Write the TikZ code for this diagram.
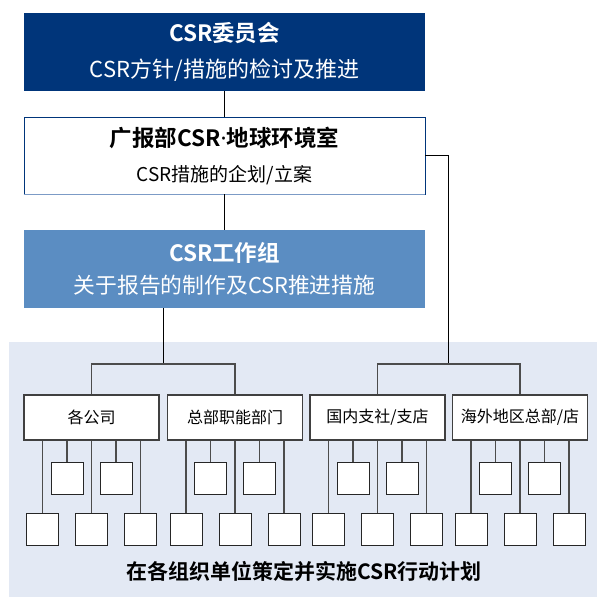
\documentclass[tikz,border=0pt]{standalone}
\usepackage{fontspec}
\setmainfont{Noto Sans CJK SC}[BoldFont={Noto Sans CJK SC Bold}]
\newfontfamily\latinfont{Noto Sans}
\usepackage{tikz}
\definecolor{csrnavy}{HTML}{00357A}
\definecolor{csrblue}{HTML}{5B8DC2}
\definecolor{csrpale}{HTML}{E3E9F4}
\definecolor{csredge}{HTML}{7C9BC6}

\begin{document}
\begin{tikzpicture}[x=1pt,y=-1pt,
  topbox/.style={minimum width=401pt,minimum height=78pt,inner sep=0pt,align=center},
  orgbox/.style={draw=black!75,fill=white,line width=1.1pt,minimum width=135pt,minimum height=45pt,inner sep=0pt,font=\fontsize{16}{20}\selectfont},
  unitbox/.style={draw=black!85,fill=white,line width=0.9pt,minimum size=32pt,inner sep=0pt},
  link/.style={draw=black!70,line width=1.3pt}]
\useasboundingbox (0,0) rectangle (597,597);
%\draw[step=50pt,color=gray] (0,0) grid (597,597);
\fill[csrpale] (9,342) rectangle (597,597);
\node[topbox,fill=csrnavy,text=white,font=\fontsize{22}{36}\selectfont] (csr) at (224.5,52)
  {{\bfseries\fontsize{22.5}{36}\selectfont CSR委员会}\\CSR方针/措施的检讨及推进};
\node[topbox,draw=csrnavy,line width=0.9pt,fill=white,minimum height=77pt,font=\fontsize{19}{35}\selectfont] (hb) at (224.5,155.5)
  {{\bfseries\fontsize{22.5}{35}\selectfont 广报部CSR{\latinfont\bfseries ·}地球环境室}\\CSR措施的企划/立案};
\draw[csredge,line width=1.6pt] (hb.south west) -- (hb.south east);
\node[topbox,fill=csrblue,text=white,font=\fontsize{21.8}{32}\selectfont] (wg) at (224.5,269)
  {{\bfseries\fontsize{22.5}{32}\selectfont CSR工作组}\\关于报告的制作及CSR推进措施};
\draw[line width=0.9pt] (csr.south) -- (hb.north);
\draw[line width=0.9pt] (hb.south) -- (wg.north);
\node[orgbox] (co1) at (91.5,417.5) {各公司};
\node[orgbox] (co2) at (235,417.5) {总部职能部门};
\node[orgbox] (co3) at (377.5,417.5) {国内支社/支店};
\node[orgbox] (co4) at (520,417.5) {海外地区总部/店};
\coordinate (busL) at (163,364);
\coordinate (busR) at (448,364);
\draw[line width=0.9pt] (wg.south -| busL) -- (busL);
\draw[line width=0.9pt] (hb.east) -| (busR);
\draw[link] (co1.north) |- (busL) -| (co2.north);
\draw[link] (co3.north) |- (busR) -| (co4.north);
\foreach \c/\x in {co1/91.5,co2/235,co3/377.5,co4/520}
  \foreach \dx/\y/\n in {-49/529/a,-24.5/478/b,0/529/c,24.5/478/d,49/529/e} {
    \node[unitbox] (\c\n) at ({\x+\dx},\y) {};
    \draw[link] (\c.south -| \c\n) -- (\c\n.north);
  }
\node[font=\bfseries\fontsize{21}{24}\selectfont] (plan) at (304,571) {在各组织单位策定并实施CSR行动计划};
\end{tikzpicture}
\end{document}
